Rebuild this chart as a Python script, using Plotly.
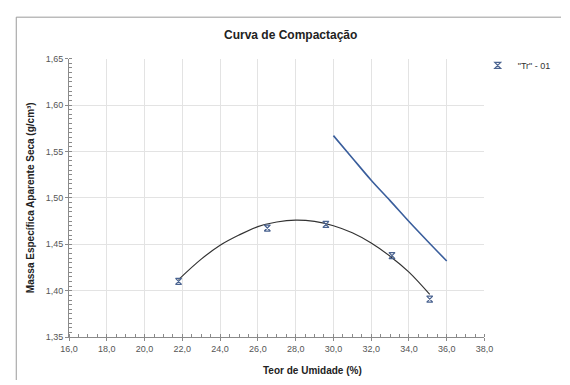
import plotly.graph_objects as go

# Measured points
umidade = [21.8, 26.5, 29.6, 33.1, 35.1]
massa = [1.410, 1.4675, 1.4715, 1.4378, 1.391]

# Trend curve points
curva_x = [21.8, 23.0, 24.0, 25.0, 26.0, 27.0, 28.0, 29.0, 30.0, 31.0, 32.0, 33.0, 34.0, 35.1]
curva_y = [1.412, 1.434, 1.449, 1.460, 1.469, 1.474, 1.476, 1.4746, 1.470, 1.4624, 1.4514, 1.4372, 1.420, 1.396]

# Saturation line points
sat_x = [30.0, 31.0, 32.0, 33.0, 34.0, 35.0, 36.0]
sat_y = [1.567, 1.543, 1.519, 1.497, 1.4745, 1.453, 1.432]

x_ticks = [16.0, 18.0, 20.0, 22.0, 24.0, 26.0, 28.0, 30.0, 32.0, 34.0, 36.0, 38.0]
y_ticks = [1.35, 1.40, 1.45, 1.50, 1.55, 1.60, 1.65]

FONT = "Liberation Sans, Arial, sans-serif"

W, H = 570, 385
# plot-area edges in pixels
PL, PR, PT, PB = 62, 491, 55, 341

def px(x):
    return x / W

def py(y):
    return (H - y) / H

fig = go.Figure()
fig.add_trace(go.Scatter(x=curva_x, y=curva_y, mode="lines", line_shape="spline",
                         line=dict(color="#333333", width=1.2), showlegend=False, hoverinfo="skip"))
fig.add_trace(go.Scatter(x=sat_x, y=sat_y, mode="lines", line_shape="spline",
                         line=dict(color="#3A5E9C", width=1.6), showlegend=False, hoverinfo="skip"))
fig.add_trace(go.Scatter(x=umidade, y=massa, mode="markers", name='"Tr" - 01',
                         marker=dict(symbol="hourglass-open", size=6, color="#4A6390",
                                     line=dict(width=1.2, color="#4A6390"))))

axis_common = dict(showgrid=True, gridcolor="#E3E3E3", gridwidth=1,
                   showline=True, linecolor="#8A8A8A", linewidth=1,
                   ticks="outside", ticklen=3, tickcolor="#8A8A8A",
                   zeroline=False, tickfont=dict(size=9, color="#555555"))

fig.update_layout(
    width=W, height=H,
    margin=dict(l=0, r=0, t=0, b=0),
    paper_bgcolor="white", plot_bgcolor="white",
    separators=",.",
    font=dict(family=FONT, size=9, color="#444444"),
    showlegend=True,
    legend=dict(x=px(484), y=py(62), xanchor="left", yanchor="middle",
                font=dict(size=9, color="#333333"), bgcolor="rgba(0,0,0,0)",
                itemwidth=30, tracegroupgap=0),
    xaxis=dict(range=[16, 38], tickvals=x_ticks, tickformat=".1f",
               domain=[px(PL), px(PR)],
               minor=dict(dtick=0.5, ticks="inside", ticklen=3, tickcolor="#8A8A8A", showgrid=False),
               **axis_common),
    yaxis=dict(range=[1.35, 1.65], tickvals=y_ticks, tickformat=".2f",
               domain=[py(PB), py(PT)],
               minor=dict(dtick=0.005, ticks="inside", ticklen=3, tickcolor="#8A8A8A", showgrid=False),
               **axis_common),
    annotations=[
        dict(text="<b>Curva de Compactação</b>", x=px(291), y=py(31), xref="paper", yref="paper",
             showarrow=False, xanchor="center", yanchor="middle",
             font=dict(size=12, color="#222222")),
        dict(text="<b>Teor de Umidade (%)</b>", x=px(313), y=py(375), xref="paper", yref="paper",
             showarrow=False, xanchor="center", yanchor="middle",
             font=dict(size=10, color="#222222")),
        dict(text="<b>Massa Específica Aparente Seca (g/cm³)</b>", x=px(23), y=py(198),
             xref="paper", yref="paper", showarrow=False, textangle=-90,
             xanchor="center", yanchor="middle", font=dict(size=10, color="#222222")),
    ],
    shapes=[
        dict(type="line", xref="paper", yref="paper", x0=px(7.5), y0=py(385), x1=px(7.5), y1=py(12.5),
             line=dict(color="#9A9A9A", width=1), layer="below"),
        dict(type="line", xref="paper", yref="paper", x0=px(7.5), y0=py(12.5), x1=px(570), y1=py(12.5),
             line=dict(color="#9A9A9A", width=1), layer="below"),
    ],
)

fig.write_html("out.html")
